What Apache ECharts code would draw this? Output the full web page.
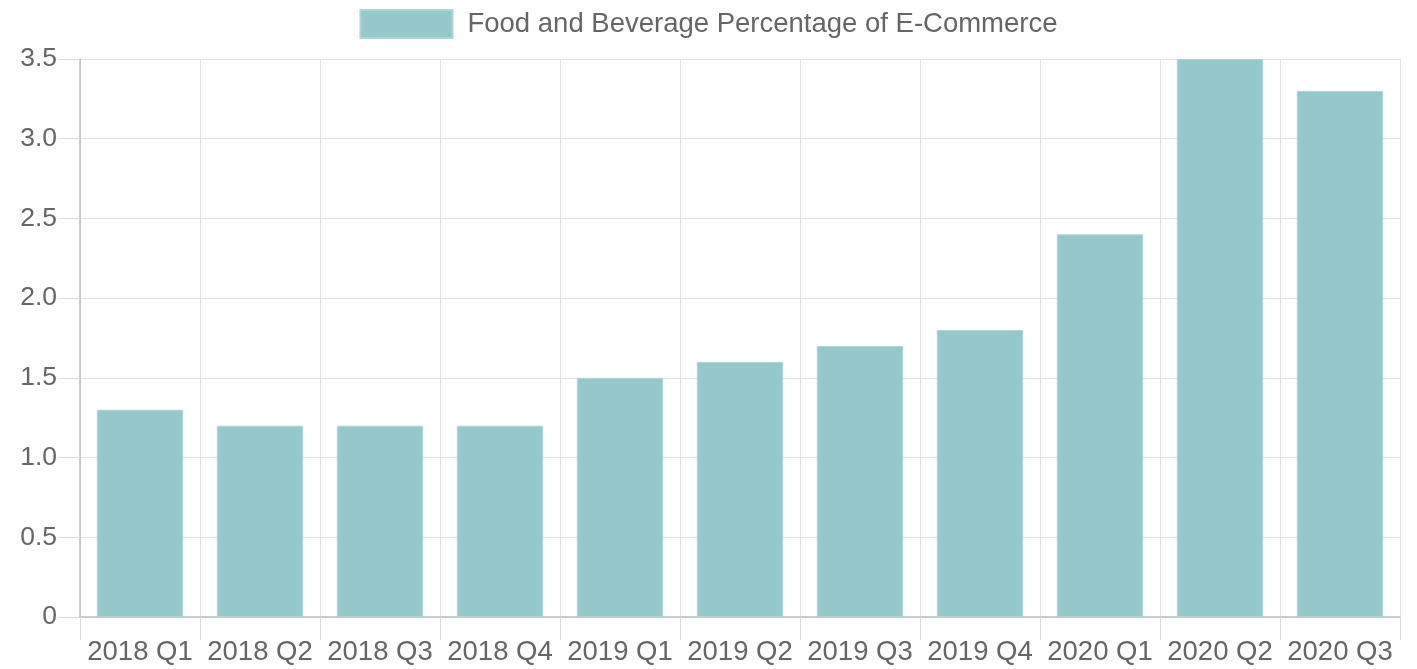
<!DOCTYPE html>
<html>
<head>
<meta charset="utf-8">
<script src="https://cdn.jsdelivr.net/npm/echarts@6/dist/echarts.min.js"></script>
<style>
  html, body { margin: 0; padding: 0; background: #fff; }
  #chart { width: 1417px; height: 669px; }
</style>
</head>
<body>
<div id="chart"></div>
<script>
var quarters = ['2018 Q1', '2018 Q2', '2018 Q3', '2018 Q4', '2019 Q1', '2019 Q2',
  '2019 Q3', '2019 Q4', '2020 Q1', '2020 Q2', '2020 Q3'];
var foodPct = [1.3, 1.2, 1.2, 1.2, 1.5, 1.6, 1.7, 1.8, 2.4, 3.5, 3.3];
var seriesName = 'Food and Beverage Percentage of E-Commerce';

var myChart = echarts.init(document.getElementById('chart'));

var fontFamily = 'Liberation Sans, Arial, sans-serif';

var option = {
  animation: false,
  legend: {
    top: 4,
    left: 'center',
    itemWidth: 92,
    itemHeight: 28,
    itemGap: 15,
    textStyle: {
      color: '#666',
      fontFamily: fontFamily,
      fontSize: 27.5,
      padding: [0, 0, 0, 10]
    },
    data: [{ name: seriesName, icon: 'rect' }]
  },
  grid: {
    left: 80,
    right: 17,
    top: 59,
    bottom: 52,
    containLabel: false
  },
  xAxis: {
    type: 'category',
    data: quarters,
    boundaryGap: true,
    axisLine: { lineStyle: { color: '#bfbfbf', width: 1.5 } },
    axisTick: { show: true, length: 23, lineStyle: { color: '#dcdcdc' } },
    axisLabel: {
      margin: 21,
      interval: 0,
      color: '#666',
      fontFamily: fontFamily,
      fontSize: 27.5
    },
    splitLine: { show: true, lineStyle: { color: '#e2e2e2', width: 1 } }
  },
  yAxis: {
    type: 'value',
    min: 0,
    max: 3.5,
    interval: 0.5,
    axisLine: { show: true, lineStyle: { color: '#bfbfbf', width: 1.5 } },
    axisTick: { show: true, length: 22, lineStyle: { color: '#dcdcdc' } },
    axisLabel: {
      margin: 23,
      color: '#666',
      fontFamily: fontFamily,
      fontSize: 26.5,
      formatter: function (v) { return v === 0 ? '0' : v.toFixed(1); }
    },
    splitLine: { show: true, lineStyle: { color: '#e2e2e2', width: 1 } }
  },
  series: [
    {
      name: seriesName,
      type: 'bar',
      data: foodPct,
      barCategoryGap: '28%',
      itemStyle: {
        color: '#94c8ca',
        borderColor: '#acd6d7',
        borderWidth: 1
      }
    }
  ]
};

if (option && typeof option === 'object') {
  myChart.setOption(option);
}

window.addEventListener('resize', myChart.resize);
</script>
</body>
</html>
